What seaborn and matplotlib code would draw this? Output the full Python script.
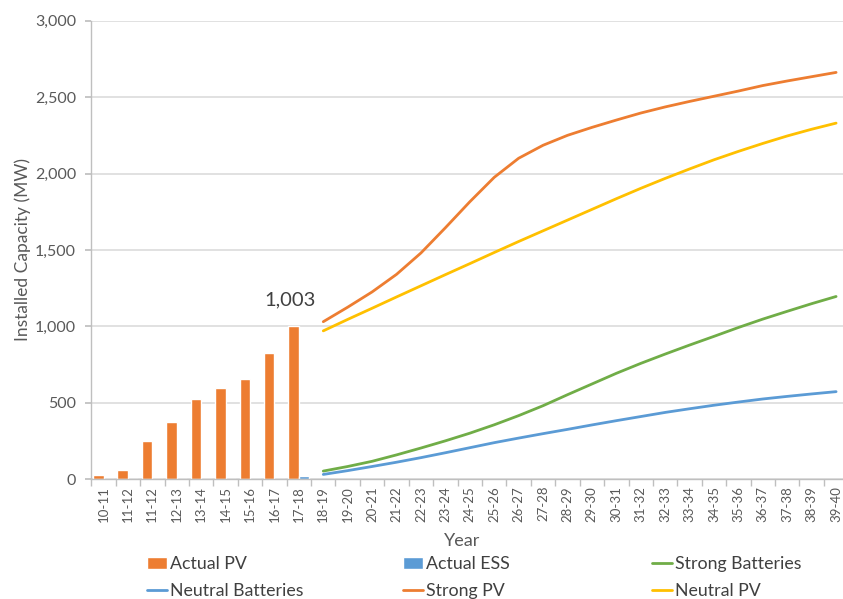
import numpy as np
import pandas as pd
import matplotlib
matplotlib.use("Agg")
import matplotlib.pyplot as plt
from matplotlib.ticker import FixedLocator, FuncFormatter
import seaborn as sns

# data
years = ["10-11", "11-12", "11-12", "12-13", "13-14", "14-15", "15-16", "16-17", "17-18",
         "18-19", "19-20", "20-21", "21-22", "22-23", "23-24", "24-25", "25-26", "26-27",
         "27-28", "28-29", "29-30", "30-31", "31-32", "32-33", "33-34", "34-35", "35-36",
         "36-37", "37-38", "38-39", "39-40"]
actual_pv = [26, 60, 248, 371, 527, 593, 658, 822, 1003]
actual_ess = [0, 0, 0, 0, 0, 0, 0, 0, 18]
strong_batteries = [52, 82, 116, 158, 203, 250, 300, 355, 415, 480, 552, 622, 692, 757,
                    818, 877, 934, 992, 1047, 1098, 1148, 1195]
neutral_batteries = [30, 55, 82, 110, 140, 172, 205, 238, 268, 297, 325, 354, 382, 409,
                     436, 460, 483, 504, 524, 541, 557, 572]
strong_pv = [1030, 1125, 1225, 1340, 1480, 1645, 1815, 1975, 2100, 2185, 2250, 2302,
             2350, 2396, 2436, 2472, 2506, 2540, 2576, 2606, 2634, 2662]
neutral_pv = [970, 1045, 1118, 1192, 1265, 1338, 1410, 1483, 1555, 1625, 1695, 1765,
              1835, 1903, 1968, 2030, 2090, 2145, 2197, 2246, 2290, 2330]

colors = {"Actual PV": "#ED7D31", "Actual ESS": "#5B9BD5",
          "Strong Batteries": "#70AD47", "Neutral Batteries": "#5B9BD5",
          "Strong PV": "#ED7D31", "Neutral PV": "#FFC000"}

sns.set_theme(style="white")
plt.rcParams['font.family'] = ['Lato', 'DejaVu Sans']
text_col = "#595959"

n_bar = len(actual_pv)
bar_pos = list(range(n_bar))
line_pos = list(range(n_bar, len(years)))

bars = pd.DataFrame({
    "pos": bar_pos * 2,
    "value": actual_pv + actual_ess,
    "series": ["Actual PV"] * n_bar + ["Actual ESS"] * n_bar,
})
lines = pd.DataFrame({
    "pos": line_pos * 4,
    "value": strong_batteries + neutral_batteries + strong_pv + neutral_pv,
    "series": (["Strong Batteries"] * len(line_pos) + ["Neutral Batteries"] * len(line_pos)
               + ["Strong PV"] * len(line_pos) + ["Neutral PV"] * len(line_pos)),
})

fig = plt.figure(figsize=(8.43, 5.99), dpi=100)
ax = fig.add_axes([91.3 / 843, 0.2003, 757.0 / 843, 0.765])

sns.barplot(data=bars, x="pos", y="value", hue="series", native_scale=True,
            palette=colors, width=0.86, dodge=True, ax=ax, saturation=1)
leg = ax.get_legend()
handles = dict(zip([t.get_text() for t in leg.texts], leg.legend_handles))
leg.remove()

sns.lineplot(data=lines, x="pos", y="value", hue="series", palette=colors,
             linewidth=2.0, ax=ax)
leg = ax.get_legend()
handles.update(dict(zip([t.get_text() for t in leg.texts], leg.legend_handles)))
leg.remove()

# axes styling
ax.set_xlim(-0.5, len(years) - 0.5)
ax.set_ylim(0, 3000)
ax.set_yticks(np.arange(0, 3001, 500))
ax.yaxis.set_major_formatter(FuncFormatter(lambda v, p: f"{v:,.0f}"))
ax.grid(axis="y", color="#d9d9d9", linewidth=1.1)
ax.set_axisbelow(True)
for s in ["top", "right"]:
    ax.spines[s].set_visible(False)
for s in ["left", "bottom"]:
    ax.spines[s].set_color("#bfbfbf")
    ax.spines[s].set_linewidth(1.0)

ax.set_xticks(range(len(years)))
ax.set_xticklabels(years, rotation=90, fontsize=9.5, color=text_col)
ax.xaxis.set_minor_locator(FixedLocator(np.arange(-0.5, len(years), 1)))
ax.tick_params(axis="x", which="major", length=0, pad=5)
ax.tick_params(axis="x", which="minor", length=5, color="#bfbfbf", direction="out", bottom=True)
ax.tick_params(axis="y", length=4, color="#bfbfbf", direction="out", left=True,
               labelsize=11.5, labelcolor=text_col, pad=7)

ax.set_ylabel("Installed Capacity (MW)", fontsize=12.5, color=text_col)
ax.yaxis.set_label_coords(-0.08, 0.5)
ax.set_xlabel("Year", fontsize=13, color=text_col)
ax.xaxis.set_label_coords(0.49, -0.118)

# data label on the last actual PV bar
ax.annotate(f"{actual_pv[-1]:,.0f}", xy=(bar_pos[-1], actual_pv[-1]),
            xytext=(-6, 19), textcoords="offset points", ha="center", va="center",
            fontsize=14.5, color="#404040")

# legend laid out in three columns
columns = [["Actual PV", "Neutral Batteries"],
           ["Actual ESS", "Strong PV"],
           ["Strong Batteries", "Neutral PV"]]
col_x = [147, 403, 652]
for names, x in zip(columns, col_x):
    lg = fig.legend([handles[n] for n in names], names, loc="upper left",
                    bbox_to_anchor=(x / 843, 1 - 556 / 599), frameon=False,
                    fontsize=12.8, labelspacing=0.62, handlelength=1.15,
                    handletextpad=0.15, borderaxespad=0, borderpad=0)
    for t in lg.texts:
        t.set_color("#404040")

fig.savefig("out.png", dpi=100)
